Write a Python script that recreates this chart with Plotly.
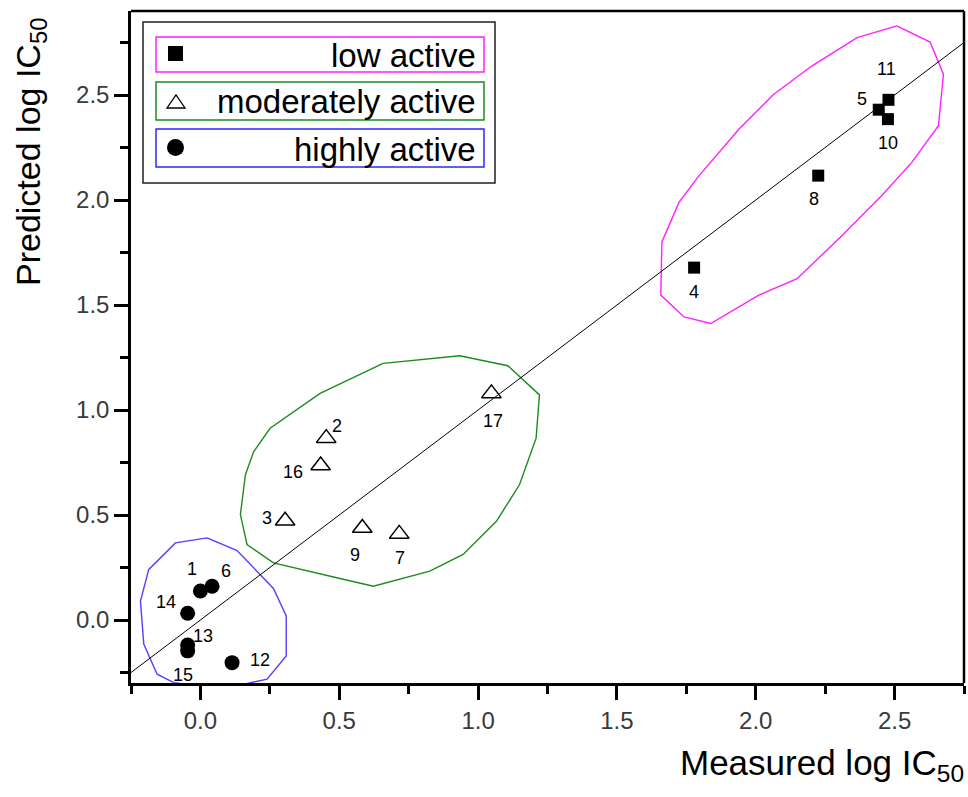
import plotly.graph_objects as go

# ---------------- data ----------------
low_ids = ["4", "8", "5", "11", "10"]
low_measured = [1.778, 2.225, 2.443, 2.478, 2.476]
low_predicted = [1.678, 2.116, 2.430, 2.477, 2.385]

mod_ids = ["2", "16", "3", "9", "7", "17"]
mod_measured = [0.453, 0.433, 0.305, 0.583, 0.716, 1.048]
mod_predicted = [0.866, 0.736, 0.473, 0.438, 0.410, 1.079]

high_ids = ["1", "6", "14", "13", "15", "12"]
high_measured = [0.000, 0.042, -0.046, -0.046, -0.046, 0.114]
high_predicted = [0.138, 0.161, 0.032, -0.119, -0.147, -0.203]

# hand-drawn cluster outlines (data coordinates)
low_hull_x = [2.508, 2.628, 2.676, 2.658, 2.562, 2.454, 2.311, 2.149, 2.011, 1.838, 1.742, 1.658,
              1.662, 1.724, 1.796, 1.940, 2.065, 2.203, 2.365, 2.508]
low_hull_y = [2.829, 2.752, 2.599, 2.354, 2.179, 2.021, 1.831, 1.625, 1.547, 1.412, 1.443, 1.547,
              1.800, 1.990, 2.116, 2.338, 2.504, 2.639, 2.773, 2.829]
mod_hull_x = [0.658, 0.934, 1.107, 1.221, 1.209, 1.149, 1.066, 0.946, 0.826, 0.623, 0.491, 0.263,
              0.168, 0.144, 0.162, 0.192, 0.251, 0.431, 0.658]
mod_hull_y = [1.222, 1.258, 1.211, 1.072, 0.866, 0.644, 0.470, 0.312, 0.233, 0.161, 0.201, 0.272,
              0.359, 0.502, 0.692, 0.802, 0.913, 1.079, 1.222]
high_hull_x = [0.024, 0.132, 0.263, 0.309, 0.309, 0.240, 0.168, 0.060, -0.096, -0.156, -0.204,
               -0.216, -0.186, -0.090, 0.024]
high_hull_y = [0.391, 0.331, 0.150, 0.019, -0.171, -0.282, -0.302, -0.326, -0.298, -0.258, -0.115,
               0.090, 0.241, 0.367, 0.391]

ideal_x = [-0.25, 2.75]

x_ticks = [0.0, 0.5, 1.0, 1.5, 2.0, 2.5]
y_ticks = [0.0, 0.5, 1.0, 1.5, 2.0, 2.5]
legend_names = ["low active", "moderately active", "highly active"]

# label offsets in pixels (dx right, dy down)
low_off = [(0, 24), (-4, 23), (-17, -11), (-2, -31), (0, 24)]
mod_off = [(11, -12), (-28, 7), (-18, -3), (-7, 27), (1, 24), (2, 28)]
high_off = [(-8, -22), (14, -15), (-22, -11), (15, -9), (-5, 24), (28, -3)]

# ---------------- figure ----------------
W, H = 968, 797
L, R, T, B = 131, 4, 11, 114
PW, PH = W - L - R, H - T - B


def px(x):
    return (x - L) / PW


def py(y):
    return (H - B - y) / PH


FONT = "Liberation Sans, Arial, sans-serif"

fig = go.Figure()

for hx, hy, col in [(low_hull_x, low_hull_y, "#ff20ff"),
                    (mod_hull_x, mod_hull_y, "#1c8c1c"),
                    (high_hull_x, high_hull_y, "#5a3cff")]:
    fig.add_trace(go.Scatter(x=hx, y=hy, mode="lines", line=dict(color=col, width=1.4),
                             hoverinfo="skip", showlegend=False))

fig.add_trace(go.Scatter(x=ideal_x, y=ideal_x, mode="lines",
                         line=dict(color="black", width=1), showlegend=False))

fig.add_trace(go.Scatter(x=low_measured, y=low_predicted, mode="markers", name=legend_names[0],
                         marker=dict(symbol="square", size=12, color="black"), showlegend=False))
fig.add_trace(go.Scatter(x=mod_measured, y=mod_predicted, mode="markers", name=legend_names[1],
                         marker=dict(symbol="triangle-up-open", size=17, color="black",
                                     line=dict(width=1.5, color="black")), showlegend=False))
fig.add_trace(go.Scatter(x=high_measured, y=high_predicted, mode="markers", name=legend_names[2],
                         marker=dict(symbol="circle", size=15, color="black"), showlegend=False))

annotations = []
for ids, xs, ys, offs in [(low_ids, low_measured, low_predicted, low_off),
                          (mod_ids, mod_measured, mod_predicted, mod_off),
                          (high_ids, high_measured, high_predicted, high_off)]:
    for t, x, y, (dx, dy) in zip(ids, xs, ys, offs):
        annotations.append(dict(x=x, y=y, xref="x", yref="y", text=t, showarrow=False,
                                xshift=dx, yshift=-dy,
                                font=dict(family=FONT, size=18, color="black")))

# axis titles
annotations.append(dict(x=px(966), y=py(765), xref="paper", yref="paper",
                        text="Measured log IC<sub>50</sub>", showarrow=False,
                        xanchor="right", yanchor="middle",
                        font=dict(family=FONT, size=35, color="black")))
annotations.append(dict(x=px(30), y=py(152), xref="paper", yref="paper",
                        text="Predicted log IC<sub>50</sub>", showarrow=False, textangle=-90,
                        xanchor="center", yanchor="middle",
                        font=dict(family=FONT, size=34, color="black")))

shapes = []
# top / right frame (no ticks there)
shapes.append(dict(type="line", xref="paper", yref="paper", x0=0, x1=1, y0=1, y1=1,
                   line=dict(color="black", width=2.5)))
shapes.append(dict(type="line", xref="paper", yref="paper", x0=1, x1=1, y0=0, y1=1,
                   line=dict(color="black", width=2.5)))

# legend (drawn manually)
shapes.append(dict(type="rect", xref="paper", yref="paper", x0=px(143), x1=px(495),
                   y0=py(22), y1=py(183), line=dict(color="#222", width=1.5),
                   fillcolor="white", layer="above"))
box_rows = [(37, 72, "#ff20ff"), (82, 120, "#1c8c1c"), (129, 167, "#2a2aff")]
for (y0, y1, col), name in zip(box_rows, legend_names):
    shapes.append(dict(type="rect", xref="paper", yref="paper", x0=px(156), x1=px(484),
                       y0=py(y0), y1=py(y1), line=dict(color=col, width=1.5), layer="above"))
    annotations.append(dict(x=px(478), y=py((y0 + y1) / 2 + 1), xref="paper", yref="paper",
                            text=name, showarrow=False, xanchor="right", yanchor="middle",
                            font=dict(family=FONT, size=33, color="black")))
# legend symbols
shapes.append(dict(type="rect", xref="paper", yref="paper", x0=px(168), x1=px(183),
                   y0=py(46), y1=py(61), fillcolor="black", line=dict(width=0), layer="above"))
shapes.append(dict(type="path", xref="paper", yref="paper",
                   path=f"M {px(167)},{py(108)} L {px(185)},{py(108)} L {px(176)},{py(95)} Z",
                   line=dict(color="black", width=1.3), layer="above"))
shapes.append(dict(type="circle", xref="paper", yref="paper", x0=px(167), x1=px(184),
                   y0=py(139), y1=py(156), fillcolor="black", line=dict(width=0), layer="above"))

axis_common = dict(showgrid=False, zeroline=False, showline=True, linecolor="black", linewidth=2.5,
                   mirror=False, ticks="outside", ticklen=14, tickwidth=2.5, tickcolor="black",
                   tickfont=dict(family=FONT, size=24, color="#3a3a3a"),
                   minor=dict(ticks="outside", ticklen=8, tickwidth=2.5, tickcolor="black", dtick=0.25))

fig.update_xaxes(range=[-0.25, 2.75], tickvals=x_ticks, ticktext=[f"{v:.1f}" for v in x_ticks],
                 **axis_common)
fig.update_yaxes(range=[-0.3, 2.9], tickvals=y_ticks, ticktext=[f"{v:.1f}" for v in y_ticks],
                 **axis_common)

fig.update_layout(width=W, height=H, margin=dict(l=L, r=R, t=T, b=B),
                  paper_bgcolor="white", plot_bgcolor="white",
                  annotations=annotations, shapes=shapes, showlegend=False)

fig.write_html("out.html")
